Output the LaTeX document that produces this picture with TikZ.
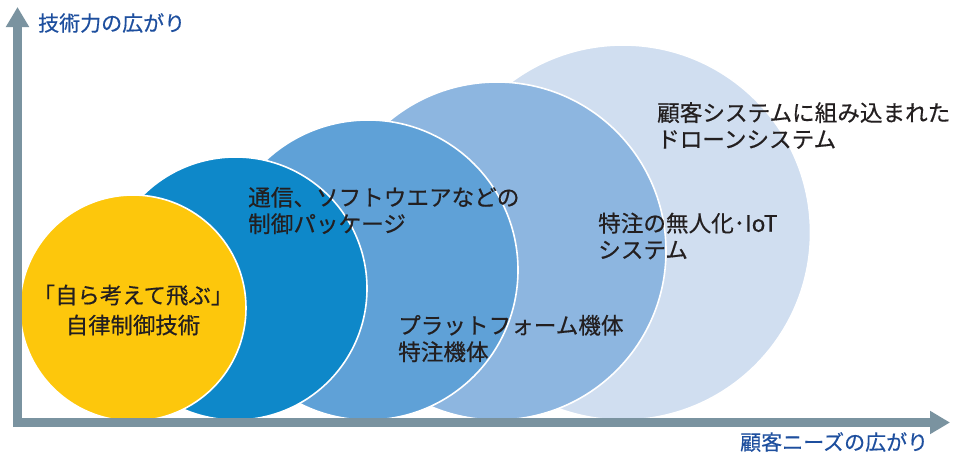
\documentclass[tikz,border=0pt]{standalone}
\usepackage{fontspec}
\newfontfamily\jp[FakeBold=0.5]{Noto Sans CJK JP}
\usetikzlibrary{arrows.meta}
\definecolor{axisgray}{HTML}{7A93A0}
\definecolor{axisblue}{HTML}{1E4F9E}
\definecolor{txt}{HTML}{231F20}
\definecolor{cyellow}{HTML}{FDC70C}
\definecolor{cblueA}{HTML}{0E88C9}
\definecolor{cblueB}{HTML}{5FA1D7}
\definecolor{cblueC}{HTML}{8DB6E0}
\definecolor{cblueD}{HTML}{D0DEF0}
\tikzset{
  ring/.style={circle, draw=white, line width=1.6pt, inner sep=0pt},
  axisline/.style={axisgray, line width=8.5pt, -{Triangle[length=20pt,width=22pt]}},
  axislabel/.style={text=axisblue, inner sep=0pt, font=\jp\fontsize{21}{25}\selectfont},
  body/.style={text=txt, inner sep=0pt, align=left, anchor=west, font=\jp\fontsize{22.6}{26.5}\selectfont},
}
\begin{document}
\begin{tikzpicture}[x=1pt,y=-1pt]
\useasboundingbox (0,0) rectangle (955,453);
% circles, largest first
\node[ring, fill=cblueD, minimum size=375pt] (c5) at (623,232.5) {};
\node[ring, fill=cblueC, minimum size=338pt] (c4) at (497,251) {};
\node[ring, fill=cblueB, minimum size=300pt] (c3) at (368,270) {};
\node[ring, fill=cblueA, minimum size=263pt] (c2) at (235.5,288.5) {};
\node[ring, fill=cyellow, minimum size=226pt] (c1) at (133,308) {};
% axes
\coordinate (ov) at (17.5,427);
\coordinate (oh) at (13,422.5);
\coordinate (ytip) at (17.5,7);
\coordinate (xtip) at (950,422.5);
\draw[axisline] (ov) -- (ytip);
\draw[axisline] (oh) -- (xtip);
% axis labels
\node[axislabel, anchor=west] (ylab) at (38,23) {技術力の広がり};
\node[axislabel, anchor=west] (xlab) at (740,442) {顧客ニーズの広がり};
% texts
\node[body, align=center, anchor=center, font=\jp\fontsize{22.4}{30}\selectfont] (t1) at (133,310) {「自ら考えて飛ぶ」\\自律制御技術};
\node[body] (t2) at (248,210.5) {通信、ソフトウエアなどの\\制御パッケージ};
\node[body] (t3) at (398,338.5) {プラットフォーム機体\\特注機体};
\node[body] (t4) at (598,236) {特注の無人化･IoT\\システム};
\node[body] (t5) at (657,125.5) {顧客システムに組み込まれた\\ドローンシステム};
\end{tikzpicture}
\end{document}
